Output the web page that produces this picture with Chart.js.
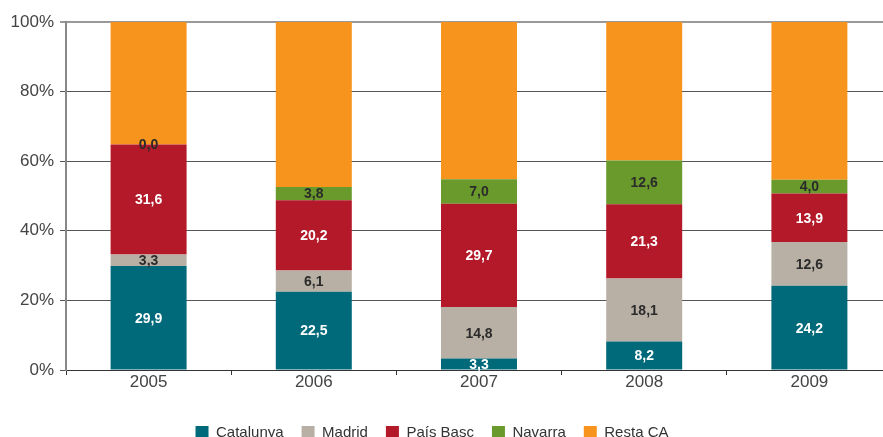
<!DOCTYPE html>
<html>
<head>
<meta charset="utf-8">
<script src="https://cdn.jsdelivr.net/npm/chart.js@4/dist/chart.umd.min.js"></script>
<style>
  html, body { margin: 0; padding: 0; background: #fff; overflow: hidden; }
  #wrap { width: 892px; height: 437px; position: relative; }
</style>
</head>
<body>
<div id="wrap"><canvas id="chart"></canvas></div>
<script>
var years = ['2005', '2006', '2007', '2008', '2009'];
var catalunya = [29.9, 22.5, 3.3, 8.2, 24.2];
var madrid = [3.3, 6.1, 14.8, 18.1, 12.6];
var paisBasc = [31.6, 20.2, 29.7, 21.3, 13.9];
var navarra = [0.0, 3.8, 7.0, 12.6, 4.0];
var restaCA = [35.2, 47.4, 45.2, 39.8, 45.3];

var font = 'Liberation Sans, Arial, Helvetica, sans-serif';

// value labels inside the segments (not on Resta CA)
var segLabels = {
  id: 'segLabels',
  afterLayout: function(chart) {
    // pull the legend a bit to the left
    chart.legend.left -= 14;
    chart.legend.right -= 14;
  },
  afterDatasetsDraw: function(chart) {
    var ctx = chart.ctx;
    ctx.save();
    ctx.font = 'bold 14px ' + font;
    ctx.textAlign = 'center';
    ctx.textBaseline = 'middle';
    chart.data.datasets.forEach(function(ds, i) {
      if (!ds.labelColor) return;
      var meta = chart.getDatasetMeta(i);
      meta.data.forEach(function(bar, j) {
        var v = ds.data[j];
        var y = (bar.y + bar.base) / 2;
        ctx.fillStyle = ds.labelColor;
        ctx.fillText(v.toFixed(1).replace('.', ','), bar.x, y + 1);
      });
    });
    ctx.restore();
  }
};

new Chart(document.getElementById('chart'), {
  type: 'bar',
  data: {
    labels: years,
    datasets: [
      { label: 'Catalunya', data: catalunya, backgroundColor: '#006a7a', labelColor: '#ffffff' },
      { label: 'Madrid', data: madrid, backgroundColor: '#b8b0a5', labelColor: '#2b2b2b' },
      { label: 'País Basc', data: paisBasc, backgroundColor: '#b31928', labelColor: '#ffffff' },
      { label: 'Navarra', data: navarra, backgroundColor: '#6a9a2b', labelColor: '#2b2b2b' },
      { label: 'Resta CA', data: restaCA, backgroundColor: '#f7941d' }
    ]
  },
  options: {
    responsive: true,
    maintainAspectRatio: false,
    animation: false,
    datasets: { bar: { barPercentage: 0.46, categoryPercentage: 1.0 } },
    layout: { padding: { top: 22, right: 0, left: 0, bottom: -13 } },
    plugins: {
      tooltip: { enabled: false },
      legend: {
        position: 'bottom',
        labels: {
          boxWidth: 13, boxHeight: 13, padding: 18,
          color: '#333', font: { family: font, size: 15 }
        }
      }
    },
    scales: {
      x: {
        stacked: true,
        border: { display: true, color: '#333', width: 1 },
        grid: { display: true, offset: true, drawOnChartArea: false, tickLength: 5, color: '#333' },
        ticks: { color: '#444', padding: -3, font: { family: font, size: 17 } },
        afterFit: function(s) { s.height = 37; }
      },
      y: {
        stacked: true,
        min: 0, max: 100,
        border: { display: true, color: '#888', width: 2 },
        grid: {
          tickLength: 6,
          color: function(c) { return c.tick && c.tick.value === 100 ? '#999' : '#555'; },
          lineWidth: function(c) { return c.tick && c.tick.value === 100 ? 2 : 1; }
        },
        ticks: {
          stepSize: 20, color: '#444', padding: 6,
          font: { family: font, size: 17 },
          callback: function(v) { return v + '%'; }
        },
        afterFit: function(s) { s.width = 66; }
      }
    }
  },
  plugins: [segLabels]
});
</script>
</body>
</html>
